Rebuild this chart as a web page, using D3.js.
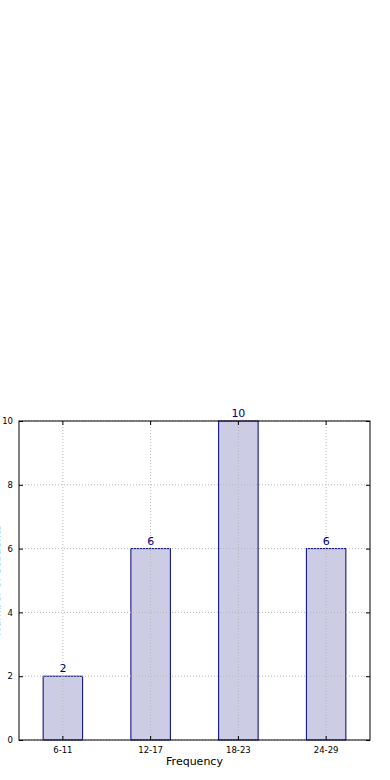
<!DOCTYPE html>
<html lang="en">
<head>
    <meta charset="UTF-8">
    <title>Frequency</title>
    <script src="https://d3js.org/d3.v7.min.js"></script>
    <style>
        body { margin: 0; padding: 0; background: #fff; overflow: hidden; }
        svg { display: block; font-family: "DejaVu Sans", sans-serif; }
        .grid line { stroke: #b8b8b8; stroke-dasharray: 1,2; }
        .axis path { display: none; }
        .axis text { font-size: 8.5px; fill: #000; font-family: "DejaVu Sans", sans-serif; }
    </style>
</head>
<body>
<script>
    // data
    const categories = ["6-11", "12-17", "18-23", "24-29"];
    const counts = [2, 6, 10, 6];
    const yTicks = [0, 2, 4, 6, 8, 10];

    const width = 390, height = 780;
    const margin = { top: 421, right: 20, bottom: 40, left: 19 };
    const innerW = width - margin.left - margin.right;
    const innerH = height - margin.top - margin.bottom;

    const svg = d3.select("body").append("svg")
        .attr("width", width)
        .attr("height", height);

    const g = svg.append("g")
        .attr("transform", `translate(${margin.left},${margin.top})`);

    const x = d3.scaleBand()
        .domain(categories)
        .range([0, innerW])
        .paddingInner(0.55)
        .paddingOuter(0.275);

    const y = d3.scaleLinear()
        .domain([0, 10])
        .range([innerH, 0]);

    // grid
    const grid = g.append("g").attr("class", "grid");
    grid.selectAll(".gy").data(yTicks).enter().append("line")
        .attr("x1", 0).attr("x2", innerW)
        .attr("y1", d => y(d)).attr("y2", d => y(d));

    // bars
    g.selectAll(".bar").data(counts).enter().append("rect")
        .attr("class", "bar")
        .attr("x", (d, i) => x(categories[i]))
        .attr("y", d => y(d))
        .attr("width", x.bandwidth())
        .attr("height", d => innerH - y(d))
        .attr("fill", "#ccccE4")
        .attr("stroke", "#000080")
        .attr("stroke-width", 1);

    // vertical grid on top of bars
    grid.raise();
    grid.selectAll(".gx").data(categories).enter().append("line")
        .attr("x1", d => x(d) + x.bandwidth() / 2)
        .attr("x2", d => x(d) + x.bandwidth() / 2)
        .attr("y1", 0).attr("y2", innerH);

    // value labels
    g.selectAll(".val").data(counts).enter().append("text")
        .attr("x", (d, i) => x(categories[i]) + x.bandwidth() / 2)
        .attr("y", d => y(d) - 4)
        .attr("text-anchor", "middle")
        .attr("font-size", "11px")
        .attr("fill", "#000080")
        .text(d => d);

    // axes
    g.append("g").attr("class", "axis")
        .call(d3.axisLeft(y).tickValues(yTicks).tickSize(-4).tickPadding(6));
    g.append("g").attr("class", "axis")
        .attr("transform", `translate(${innerW},0)`)
        .call(d3.axisRight(y).tickValues(yTicks).tickSize(-4).tickFormat(""));
    g.append("g").attr("class", "axis")
        .attr("transform", `translate(0,${innerH})`)
        .call(d3.axisBottom(x).tickSize(-4).tickPadding(7));
    g.append("g").attr("class", "axis")
        .call(d3.axisTop(x).tickSize(-4).tickFormat(""));
    g.selectAll(".axis .tick line").attr("stroke", "#000");

    // frame
    g.append("rect")
        .attr("width", innerW).attr("height", innerH)
        .attr("fill", "none").attr("stroke", "#000").attr("stroke-width", 1);

    // axis titles
    svg.append("text")
        .attr("x", margin.left + innerW / 2)
        .attr("y", 765)
        .attr("text-anchor", "middle")
        .attr("font-size", "11px")
        .text("Frequency");

    svg.append("text")
        .attr("transform", `translate(0,${margin.top + innerH / 2}) rotate(-90)`)
        .attr("text-anchor", "middle")
        .attr("font-size", "11px")
        .text("Number of Students");
</script>
</body>
</html>
